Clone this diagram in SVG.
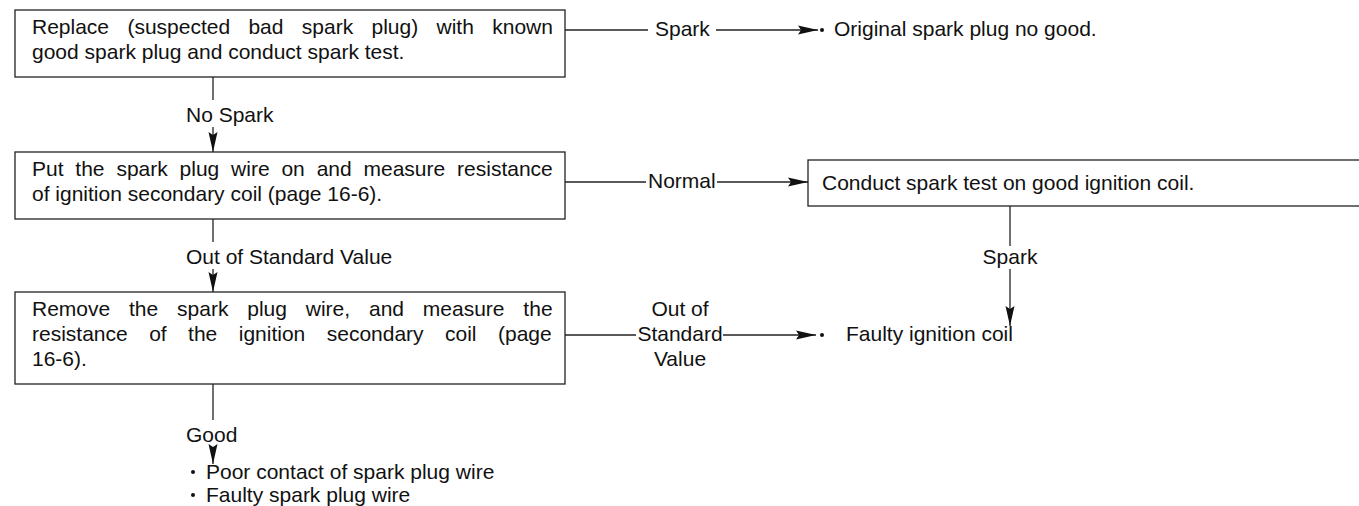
<svg xmlns="http://www.w3.org/2000/svg" width="1359" height="506" viewBox="0 0 1359 506">
<style>
  .box{fill:#fff;stroke:#222;stroke-width:1.3}
  .t{font-family:"Liberation Sans",Arial,sans-serif;font-size:21px;fill:#111}
  .m{text-anchor:middle}
  .ln{stroke:#222;stroke-width:1.3;fill:none}
  .dot{fill:#111}
</style>
<defs>
  <marker id="ah" markerUnits="userSpaceOnUse" markerWidth="20" markerHeight="10" viewBox="0 0 20 10" refX="20" refY="5" orient="auto">
    <path d="M0,0.5 L20,5 L0,9.5 L3,5 z" fill="#111"/>
  </marker>
</defs>
<g id="connectors">
  <line class="ln" x1="213" y1="77" x2="213" y2="100"/>
  <text class="t" x="186" y="122">No Spark</text>
  <line class="ln" x1="213" y1="127" x2="213" y2="152" marker-end="url(#ah)"/>
  <line class="ln" x1="213" y1="219" x2="213" y2="242"/>
  <text class="t" x="186" y="264">Out of Standard Value</text>
  <line class="ln" x1="213" y1="269" x2="213" y2="292" marker-end="url(#ah)"/>
  <line class="ln" x1="213" y1="384" x2="213" y2="420"/>
  <text class="t" x="186" y="442">Good</text>
  <line class="ln" x1="213" y1="447" x2="213" y2="464" marker-end="url(#ah)"/>
  <line class="ln" x1="565" y1="30" x2="648" y2="30"/>
  <text class="t" x="655" y="36">Spark</text>
  <line class="ln" x1="716" y1="30" x2="818" y2="30" marker-end="url(#ah)"/>
  <line class="ln" x1="565" y1="182" x2="646" y2="182"/>
  <text class="t" x="648" y="188">Normal</text>
  <line class="ln" x1="717" y1="182" x2="808" y2="182" marker-end="url(#ah)"/>
  <line class="ln" x1="1010" y1="206" x2="1010" y2="246"/>
  <text class="t m" x="1010" y="264">Spark</text>
  <line class="ln" x1="1010" y1="269" x2="1010" y2="326" marker-end="url(#ah)"/>
  <line class="ln" x1="565" y1="335" x2="636" y2="335"/>
  <text class="t m" x="680" y="316">Out of</text>
  <text class="t m" x="680" y="341">Standard</text>
  <text class="t m" x="680" y="366">Value</text>
  <line class="ln" x1="723" y1="335" x2="816" y2="335" marker-end="url(#ah)"/>
</g>
<g id="node-replace">
  <rect class="box" x="15" y="10" width="550" height="67"/>
  <text class="t" x="32" y="34" word-spacing="12.5">Replace (suspected bad spark plug) with known</text>
  <text class="t" x="32" y="59">good spark plug and conduct spark test.</text>
</g>
<g id="node-original">
  <circle class="dot" cx="822" cy="30" r="2"/>
  <text class="t" x="834" y="36">Original spark plug no good.</text>
</g>
<g id="node-measure-on">
  <rect class="box" x="15" y="152" width="550" height="67"/>
  <text class="t" x="32" y="176" word-spacing="6">Put the spark plug wire on and measure resistance</text>
  <text class="t" x="32" y="201">of ignition secondary coil (page 16-6).</text>
</g>
<g id="node-conduct">
  <rect class="box" x="808" y="160" width="570" height="46"/>
  <text class="t" x="822" y="190">Conduct spark test on good ignition coil.</text>
</g>
<g id="node-measure-off">
  <rect class="box" x="15" y="292" width="550" height="92"/>
  <text class="t" x="32" y="316" word-spacing="13">Remove the spark plug wire, and measure the</text>
  <text class="t" x="32" y="341" word-spacing="15.6">resistance of the ignition secondary coil (page</text>
  <text class="t" x="32" y="366">16-6).</text>
</g>
<g id="node-faulty-coil">
  <circle class="dot" cx="822" cy="335" r="2"/>
  <text class="t" x="846" y="341">Faulty ignition coil</text>
</g>
<g id="node-wire">
  <circle class="dot" cx="193" cy="472" r="2"/>
  <text class="t" x="206" y="479">Poor contact of spark plug wire</text>
  <circle class="dot" cx="193" cy="495" r="2"/>
  <text class="t" x="206" y="502">Faulty spark plug wire</text>
</g>
</svg>
